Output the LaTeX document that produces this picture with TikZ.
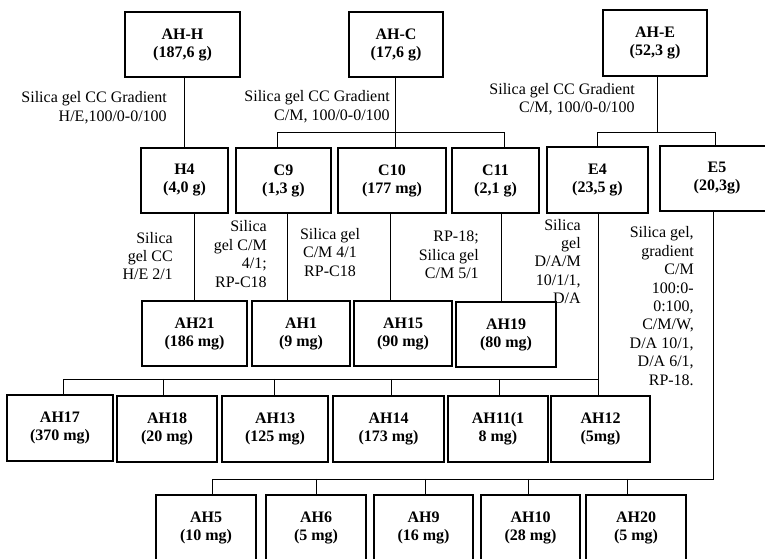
\documentclass[tikz,border=0pt]{standalone}
\usepackage{fontspec}
\setmainfont{Liberation Serif}
\usetikzlibrary{calc}
\begin{document}
\begin{tikzpicture}[x=0.75pt,y=-0.75pt,
  box/.style={draw, line width=1.2pt, align=center, inner sep=0pt,
    font=\fontsize{12}{13.5}\selectfont\bfseries, minimum height=65*0.75pt},
  lbl/.style={inner sep=0pt, font=\fontsize{12}{13.8}\selectfont},
  conn/.style={line width=0.6pt}]
\clip (0,0) rectangle (765,559);
% top row
\node[box, minimum width=115*0.75pt] (AHH) at (182.5,44.5) {AH-H\\(187,6 g)};
\node[box, minimum width=94*0.75pt]  (AHC) at (396,44.5)   {AH-C\\(17,6 g)};
\node[box, minimum width=104*0.75pt, minimum height=66*0.75pt] (AHE) at (655,43) {AH-E\\(52,3 g)};
% second row
\node[box, minimum width=87*0.75pt]  (H4)  at (184.5,180.5) {H4\\(4,0 g)};
\node[box, minimum width=95*0.75pt]  (C9)  at (283.5,180.5) {C9\\(1,3 g)};
\node[box, minimum width=108*0.75pt] (C10) at (392,180.5)   {C10\\(177 mg)};
\node[box, minimum width=87*0.75pt]  (C11) at (495.5,180.5) {C11\\(2,1 g)};
\node[box, minimum width=101*0.75pt, minimum height=66*0.75pt] (E4) at (597.5,180) {E4\\(23,5 g)};
\node[box, minimum width=114*0.75pt] (E5)  at (717,178.5)   {E5\\(20,3g)};
% third row
\node[box, minimum width=105*0.75pt] (AH21) at (194.5,333.5) {AH21\\(186 mg)};
\node[box, minimum width=98*0.75pt]  (AH1)  at (301,333.5)   {AH1\\(9 mg)};
\node[box, minimum width=98*0.75pt]  (AH15) at (403,333.5)   {AH15\\(90 mg)};
\node[box, minimum width=100*0.75pt] (AH19) at (506,334.5)   {AH19\\(80 mg)};
% fourth row
\node[box, minimum width=106*0.75pt, minimum height=66*0.75pt] (AH17) at (60,428)    {AH17\\(370 mg)};
\node[box, minimum width=100*0.75pt, minimum height=66*0.75pt] (AH18) at (167,429)   {AH18\\(20 mg)};
\node[box, minimum width=106*0.75pt, minimum height=66*0.75pt] (AH13) at (275,429)   {AH13\\(125 mg)};
\node[box, minimum width=111*0.75pt, minimum height=66*0.75pt] (AH14) at (388.5,429) {AH14\\(173 mg)};
\node[box, minimum width=100*0.75pt, minimum height=66*0.75pt] (AH11) at (498,429)   {AH11(1\\8 mg)};
\node[box, minimum width=99*0.75pt, minimum height=66*0.75pt]  (AH12) at (600.5,429) {AH12\\(5mg)};
% fifth row
\node[box, minimum width=100*0.75pt] (AH5)  at (206,527.5)   {AH5\\(10 mg)};
\node[box, minimum width=100*0.75pt] (AH6)  at (316,527.5)   {AH6\\(5 mg)};
\node[box, minimum width=99*0.75pt]  (AH9)  at (423.5,527.5) {AH9\\(16 mg)};
\node[box, minimum width=99*0.75pt]  (AH10) at (530.5,527.5) {AH10\\(28 mg)};
\node[box, minimum width=100*0.75pt] (AH20) at (636,527.5)   {AH20\\(5 mg)};
% bar levels
\coordinate (ybar1) at (0,132);
\coordinate (ybar4) at (0,379);
\coordinate (ybar5) at (0,479);
% AH-H -> H4
\draw[conn] (H4.north |- AHH.south) -- (H4.north);
% AH-C -> C9, C10, C11
\coordinate (ac) at ($(AHC.south)+(-1,0)$);
\draw[conn] (ac) -- (ac |- C10.north);
\coordinate (c9t) at ($(C9.north)+(-6.5,0)$);
\coordinate (c11t) at ($(C11.north)+(8.5,0)$);
\draw[conn] (c9t) -- (c9t |- ybar1) -- (c11t |- ybar1) -- (c11t);
% AH-E -> E4, E5
\coordinate (ae) at ($(AHE.south)+(2,0)$);
\draw[conn] (ae) -- (ae |- ybar1);
\coordinate (e4t) at ($(E4.north)+(-0.5,0)$);
\coordinate (e5t) at ($(E5.north)+(-2,0)$);
\draw[conn] (e4t) -- (e4t |- ybar1) -- (e5t |- ybar1) -- (e5t);
% second to third row
\draw[conn] (H4.south -| AH21.north) -- (AH21.north);
\coordinate (c9b) at ($(C9.south)+(3.5,0)$);
\draw[conn] (c9b) -- (c9b |- AH1.north);
\coordinate (c10b) at ($(C10.south)+(-2,0)$);
\draw[conn] (c10b) -- (c10b |- AH15.north);
\coordinate (c11b) at ($(C11.south)+(6,0)$);
\draw[conn] (c11b) -- (c11b |- AH19.north);
% E4 -> fourth row
\coordinate (e4b) at ($(E4.south)+(0.5,0)$);
\draw[conn] (e4b) -- (e4b |- AH12.north);
\coordinate (a17) at ($(AH17.north)+(3,0)$);
\draw[conn] (a17) -- (a17 |- ybar4) -- (e4b |- ybar4);
\coordinate (a18) at ($(AH18.north)+(-4,0)$);
\draw[conn] (a18 |- ybar4) -- (a18);
\coordinate (a13) at ($(AH13.north)+(-1,0)$);
\draw[conn] (a13 |- ybar4) -- (a13);
\coordinate (a14) at ($(AH14.north)+(2.5,0)$);
\draw[conn] (a14 |- ybar4) -- (a14);
\coordinate (a11) at ($(AH11.north)+(1,0)$);
\draw[conn] (a11 |- ybar4) -- (a11);
% E5 -> fifth row
\coordinate (e5b) at ($(E5.south)+(-4,0)$);
\coordinate (a5) at ($(AH5.north)+(6,0)$);
\draw[conn] (e5b) -- (e5b |- ybar5) -- (a5 |- ybar5) -- (a5);
\draw[conn] (AH6.north |- ybar5) -- (AH6.north);
\coordinate (a9) at ($(AH9.north)+(1.5,0)$);
\draw[conn] (a9 |- ybar5) -- (a9);
\coordinate (a10) at ($(AH10.north)+(-2.5,0)$);
\draw[conn] (a10 |- ybar5) -- (a10);
\coordinate (a20) at ($(AH20.north)+(-9,0)$);
\draw[conn] (a20 |- ybar5) -- (a20);
% labels
\node[lbl, align=right, anchor=east] (l1) at (167,107.5) {Silica gel CC Gradient\\H/E,100/0-0/100};
\node[lbl, align=right, anchor=east] (l2) at (390,106.5) {Silica gel CC Gradient\\C/M, 100/0-0/100};
\node[lbl, align=right, anchor=east] (l3) at (635,99) {Silica gel CC Gradient\\C/M, 100/0-0/100};
\node[lbl, align=right, anchor=east] (l4) at (173,256) {Silica\\gel CC\\H/E 2/1};
\node[lbl, align=right, anchor=east] (l5) at (267,254) {Silica\\gel C/M\\4/1;\\RP-C18};
\node[lbl, align=center] (l6) at (330,252.5) {Silica gel\\C/M 4/1\\RP-C18};
\node[lbl, align=right, anchor=east] (l7) at (479,255) {RP-18;\\Silica gel\\C/M 5/1};
\node[lbl, align=right, anchor=east] (l8) at (581,261.5) {Silica\\gel\\D/A/M\\10/1/1,\\D/A};
\node[lbl, align=right, anchor=east] (l9) at (694,306) {Silica gel,\\gradient\\C/M\\100:0-\\0:100,\\C/M/W,\\D/A 10/1,\\D/A 6/1,\\RP-18.};
\end{tikzpicture}
\end{document}
